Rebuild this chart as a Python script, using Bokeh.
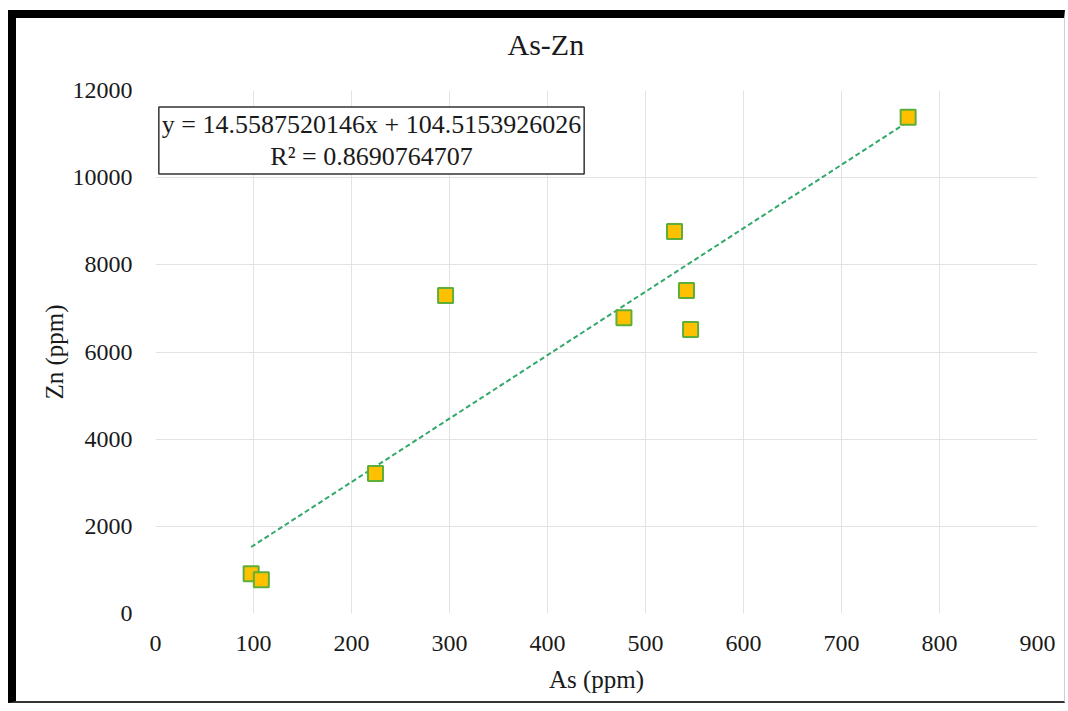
from bokeh.plotting import figure
from bokeh.models import Label, FixedTicker, Range1d, ColumnDataSource, Title
from bokeh.embed import file_html
from bokeh.resources import INLINE

# data
as_ppm = [97.6, 108, 224.5, 296, 478, 529.6, 541.8, 546, 768]
zn_ppm = [911, 773, 3212, 7296, 6785, 8765, 7411, 6516, 11387]
slope = 14.5587520146
intercept = 104.5153926026
r2 = 0.8690764707
x_ticks = [0, 100, 200, 300, 400, 500, 600, 700, 800, 900]
y_ticks = [0, 2000, 4000, 6000, 8000, 10000, 12000]

FONT = "Liberation Serif"
W, H = 1057, 693

p = figure(width=W, height=H, output_backend="svg", toolbar_location=None,
           x_range=Range1d(0, 900), y_range=Range1d(0, 12000),
           min_border_left=139, min_border_right=36, min_border_top=72, min_border_bottom=98)
p.styles = {"border-top": "8px solid black", "border-left": "8px solid black",
            "border-right": "1px solid #d0d0d0", "border-bottom": "2px solid #333333"}
p.outline_line_color = None
p.background_fill_color = "white"
p.border_fill_color = "white"

# spacer (closest to frame) then the title
p.add_layout(Title(text=" ", text_font_size="1px", standoff=22), "above")
p.add_layout(Title(text="As-Zn", text_font=FONT, text_font_size="30px",
                   text_font_style="normal", text_color="#1a1a1a",
                   align="left", offset=352, standoff=10), "above")

for ax in (p.xaxis, p.yaxis):
    ax.axis_line_color = None
    ax.major_tick_line_color = None
    ax.minor_tick_line_color = None
    ax.major_tick_out = 0
    ax.major_label_text_font = FONT
    ax.major_label_text_font_size = "24px"
    ax.major_label_text_color = "#1a1a1a"
    ax.axis_label_text_font = FONT
    ax.axis_label_text_font_size = "25px"
    ax.axis_label_text_font_style = "normal"
    ax.axis_label_text_color = "#1a1a1a"

p.xaxis.ticker = FixedTicker(ticks=x_ticks)
p.yaxis.ticker = FixedTicker(ticks=y_ticks)
p.xaxis.major_label_standoff = 22
p.yaxis.major_label_standoff = 23
p.xaxis.axis_label = "As (ppm)"
p.yaxis.axis_label = "Zn (ppm)"
p.xaxis.axis_label_standoff = 12
p.yaxis.axis_label_standoff = 2

p.xgrid.grid_line_color = "#e3e3e3"
p.ygrid.grid_line_color = "#e3e3e3"
p.xgrid.grid_line_width = 1
p.ygrid.grid_line_width = 1

# trendline
x0, x1 = min(as_ppm), max(as_ppm)
p.line([x0, x1], [slope * x0 + intercept, slope * x1 + intercept],
       line_color="#33a86b", line_width=2, line_dash="5 3")

src = ColumnDataSource(dict(x=as_ppm, y=zn_ppm))
p.scatter("x", "y", source=src, marker="square", size=15,
          fill_color="#FFC000", line_color="#5DAF3A", line_width=2)

# equation box
eq = Label(x=216, y=473, x_units="screen", y_units="screen",
           text=f"y = {slope:.10f}x + {intercept:.10f}\nR\u00b2 = {r2:.10f}",
           text_font=FONT, text_font_size="26px", text_align="center",
           text_baseline="middle", text_color="#1a1a1a", text_line_height=1.1,
           border_line_color="#333333", border_line_width=1.5,
           background_fill_color="white", padding=3)
p.add_layout(eq)

html = file_html(p, INLINE)
html = html.replace("</head>",
                    "<style>body { padding: 10px 0 0 8px !important; }</style>\n</head>", 1)
open("out.html", "w").write(html)
